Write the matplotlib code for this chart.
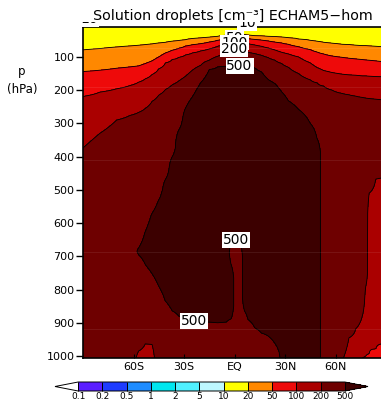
import numpy as np
import matplotlib
matplotlib.use('Agg')
import matplotlib.pyplot as plt
from matplotlib.transforms import Bbox

# contour levels [cm-3] and fill colours (first = under, last = over)
levels = [0.1, 0.2, 0.5, 1, 2, 5, 10, 20, 50, 100, 200, 500]
level_labels = ['0.1', '0.2', '0.5', '1', '2', '5', '10', '20', '50', '100', '200', '500']
fill_colors = ['#ffffff', '#5a1eff', '#1e3cff', '#1e8cff', '#00e6ef', '#50f0ff',
               '#bef8ff', '#ffff00', '#ff8800', '#ee0a0a', '#aa0000', '#6e0000',
               '#3c0000']

lat_ticks = [-60, -30, 0, 30, 60]
lat_labels = ['60S', '30S', 'EQ', '30N', '60N']
p_ticks = [100, 200, 300, 400, 500, 600, 700, 800, 900, 1000]

# zonal mean columns: latitude and the pressure [hPa] where the upper
# contours (20, 50, 100, 200 cm-3) are crossed
lats = [-90, -80, -70, -62, -57, -53, -49, -45, -41, -37, -33, -29, -25, -20,
        -15, -10, -5, -2, 1, 3.5, 6, 8, 12, 16, 20, 24, 28, 32, 38, 45, 49,
        53, 58, 64, 68, 72, 76, 78, 80, 84, 90]
p20 = [79, 75, 70, 67, 65, 63, 61, 58, 56, 53, 51, 48, 45, 43,
       41, 38, 35, 33, 32, 32, 33, 34, 36, 37, 38, 39, 40, 42, 46, 50, 53,
       56, 59, 62, 63, 65, 66, 66, 67, 68, 70]
p50 = [144, 140, 134, 130, 127, 120, 112, 100, 88, 80, 74, 67, 63, 60,
       55, 50, 46, 43, 41, 41, 43, 45, 47, 49, 52, 55, 58, 62, 69, 78, 85,
       91, 97, 101, 104, 106, 108, 109, 110, 112, 115]
p100 = [219, 206, 196, 186, 176, 166, 153, 136, 118, 108, 101, 94, 88, 82,
        76, 68, 60, 57, 57, 57, 58, 60, 64, 68, 73, 79, 86, 91, 100, 118, 132,
        141, 147, 152, 154, 155, 157, 157, 158, 159, 160]
p200 = [374, 330, 290, 276, 267, 255, 234, 215, 198, 184, 172, 158, 140, 125,
        110, 98, 88, 79, 76, 77, 82, 86, 90, 95, 102, 110, 120, 131, 150, 169, 178,
        188, 200, 210, 214, 218, 222, 224, 225, 227, 230]

# lower troposphere: (pressure, concentration) nodes below the 200 contour
lower = [
    [(480, 316), (1010, 316)],
    [(430, 316), (1010, 316)],
    [(390, 316), (1010, 316)],
    [(370, 316), (1010, 316)],
    [(360, 316), (640, 316), (675, 500), (685, 560), (695, 500), (730, 316),
     (950, 316), (985, 200), (1010, 160)],
    [(350, 316), (590, 316), (625, 500), (675, 760), (725, 500), (760, 316),
     (930, 316), (963, 200), (1010, 150)],
    [(330, 316), (540, 316), (571, 500), (611, 800), (712, 800), (752, 500),
     (785, 316), (935, 316), (965, 200), (1010, 150)],
    [(300, 316), (500, 316), (530, 500), (570, 800), (750, 800), (790, 500),
     (820, 316), (1010, 316)],
    [(280, 316), (440, 316), (468, 500), (508, 800), (795, 800), (835, 500),
     (865, 316), (1010, 316)],
    [(260, 316), (370, 316), (400, 500), (440, 800), (824, 800), (864, 500),
     (890, 316), (1010, 316)],
    [(240, 316), (290, 316), (319, 500), (359, 800), (840, 800), (880, 500),
     (905, 316), (1010, 316)],
    [(253, 500), (293, 800), (852, 800), (892, 500), (915, 316), (1010, 316)],
    [(220, 500), (260, 800), (855, 800), (895, 500), (920, 316), (1010, 316)],
    [(177, 500), (217, 800), (857, 800), (897, 500), (922, 316), (1010, 316)],
    [(138, 500), (178, 800), (858, 800), (898, 500), (923, 316), (1010, 316)],
    [(130, 500), (170, 800), (860, 800), (900, 500), (925, 316), (1010, 316)],
    [(128, 500), (168, 800), (858, 800), (898, 500), (923, 316), (1010, 316)],
    [(127, 500), (167, 800), (615, 800), (655, 500), (690, 380), (725, 500),
     (765, 800), (850, 800), (888, 500), (915, 316), (1010, 316)],
    [(127, 500), (167, 800), (610, 800), (650, 500), (690, 316), (1010, 316)],
    [(127, 500), (167, 800), (620, 800), (660, 500), (700, 316), (1010, 316)],
    [(127, 500), (167, 800), (825, 800), (865, 500), (890, 316), (1010, 316)],
    [(128, 500), (168, 800), (850, 800), (890, 500), (912, 316), (1010, 316)],
    [(133, 500), (173, 800), (875, 800), (915, 500), (940, 316), (1010, 316)],
    [(145, 500), (185, 800), (891, 800), (931, 500), (955, 316), (1010, 316)],
    [(168, 500), (208, 800), (900, 800), (940, 500), (965, 316), (1010, 316)],
    [(180, 500), (220, 800), (925, 800), (962, 500), (990, 316), (1010, 316)],
    [(205, 500), (245, 800), (960, 800), (1010, 560)],
    [(232, 500), (272, 800), (1010, 800)],
    [(258, 500), (298, 800), (1010, 800)],
    [(300, 500), (340, 800), (1010, 800)],
    [(345, 500), (385, 800), (1010, 800)],
    [(260, 316), (1010, 316)],
    [(270, 316), (1010, 316)],
    [(280, 316), (950, 316), (1010, 205)],
    [(285, 316), (905, 316), (945, 200), (1010, 150)],
    [(290, 316), (880, 316), (918, 200), (1010, 140)],
    [(295, 316), (840, 316), (878, 200), (940, 140), (1006, 100), (1010, 98)],
    [(300, 316), (755, 316), (790, 200), (850, 140), (1000, 100), (1010, 95)],
    [(300, 316), (480, 316), (510, 200), (570, 140), (993, 100), (1010, 90)],
    [(300, 316), (440, 316), (467, 200), (530, 140), (978, 100), (1010, 80)],
    [(300, 316), (430, 316), (458, 200), (520, 140), (962, 100), (1010, 75)],
]

# where the contour labels sit (lat, hPa)
label_spots = {'50': [(0, 38)], '100': [(0, 57)], '200': [(0, 78)],
               '500': [(3, 127), (1, 648), (-24, 898)]}
# the 10 contour runs just above the top of the frame
top_labels = [(-86, -14), (7.5, -2)]

### BUILD THE LAT-PRESSURE FIELD (log10 of concentration) ###
pgrid = np.linspace(0, 1010, 506)
field = np.empty((len(pgrid), len(lats)))
for j in range(len(lats)):
    nodes = [(0, 8), (7, 10), (p20[j], 20), (p50[j], 50), (p100[j], 100),
             (p200[j], 200)] + lower[j]
    pp = [a for a, b in nodes]
    nn = [b for a, b in nodes]
    field[:, j] = np.interp(pgrid, pp, np.log10(nn))

lv = np.log10(levels)

fig = plt.figure(figsize=(3.81, 4.01), dpi=100)
ax = fig.add_axes([83 / 381, 43 / 401, 303 / 381, 331 / 401])

cs = ax.contourf(lats, pgrid, field, levels=lv, colors=fill_colors, extend='both')

# one line set per level so each can be labelled on its own
line_sets = {}
for v, name in zip(lv, level_labels):
    line_sets[name] = ax.contour(lats, pgrid, field, levels=[v], colors='k',
                                 linewidths=0.6)

# faint seams across the shaded field
for p in [72, 191, 411, 688, 919]:
    ax.axhline(p, color='white', alpha=0.08, lw=0.8)

ax.set_xlim(-90, 90)
ax.set_ylim(1006, 10)
ax.set_xticks(lat_ticks)
ax.set_xticklabels(lat_labels)
ax.set_yticks(p_ticks)
ax.tick_params(axis='x', direction='in', length=3, width=0.8, labelsize=8, pad=3)
ax.tick_params(axis='y', direction='out', length=5, width=1.0, labelsize=8, pad=1)
for s in ax.spines.values():
    s.set_linewidth(1.2)

# contour labels, 50 -> 100 -> 200 -> 500 so the later boxes overlap
for z, name in enumerate(['50', '100', '200', '500']):
    labs = ax.clabel(line_sets[name], manual=label_spots[name], inline=False,
                     fontsize=10, fmt=lambda v, n=name: n)
    for t in labs:
        t.set_rotation(0)
        t.set_zorder(5 + z)
        t.set_bbox(dict(facecolor='white', edgecolor='none', pad=0.6))

# 10 labels peeking out below the title line
strip = Bbox.from_extents(0, 0, 381, 401 - 22)
for x, p in top_labels:
    t = ax.text(x, p, '10', ha='center', va='center', fontsize=10, zorder=4,
                clip_on=True,
                bbox=dict(facecolor='white', edgecolor='none', pad=0.6))
    t.set_clip_box(strip)

fig.text(233 / 381, 1 - 20 / 401, 'Solution droplets [cm⁻³] ECHAM5−hom',
         ha='center', va='baseline', fontsize=10.3)
fig.text(22 / 381, 1 - 72 / 401, 'p', ha='center', va='center', fontsize=8.5)
fig.text(22 / 381, 1 - 89 / 401, '(hPa)', ha='center', va='center', fontsize=8.5)

cax = fig.add_axes([55 / 381, 10 / 401, 313 / 381, 9 / 401])
cbar = fig.colorbar(cs, cax=cax, orientation='horizontal', extendfrac=0.087,
                    drawedges=True, ticks=lv)
cbar.set_ticklabels(level_labels)
cbar.ax.tick_params(length=0, labelsize=6.5, pad=1)
cbar.outline.set_linewidth(0.7)
cbar.dividers.set_linewidth(0.7)
cbar.dividers.set_color('k')

fig.savefig('out.png', dpi=100)
